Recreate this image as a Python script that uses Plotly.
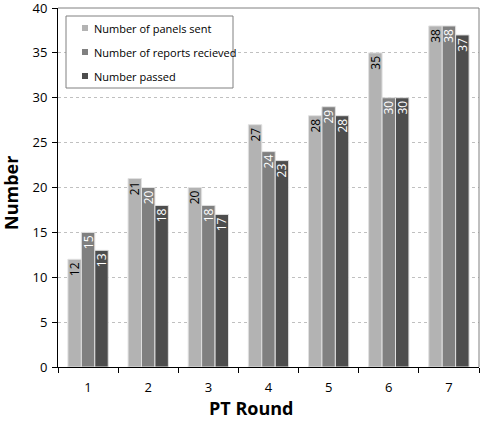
import plotly.graph_objects as go

rounds = ["1", "2", "3", "4", "5", "6", "7"]
panels_sent = [12, 21, 20, 27, 28, 35, 38]
reports_received = [15, 20, 18, 24, 29, 30, 38]
passed = [13, 18, 17, 23, 28, 30, 37]

series = [
    ("Number of panels sent", panels_sent, "#b3b3b3", "#000000"),
    ("Number of reports recieved", reports_received, "#808080", "#ffffff"),
    ("Number passed", passed, "#4d4d4d", "#ffffff"),
]

FONT = "Open Sans"
L, R, T, B = 58, 1, 8, 55
PW, PH = 480 - L - R, 422 - T - B

def px(x):
    return (x - L) / PW

def py(y):
    return 1 - (y - T) / PH

fig = go.Figure()
for name, vals, col, tcol in series:
    fig.add_trace(go.Bar(
        x=rounds, y=vals, name=name,
        marker=dict(color=col, line=dict(color="#e0e0e0", width=1)),
        text=[str(v) for v in vals],
        textposition="inside", insidetextanchor="end", textangle=-90,
        textfont=dict(family=FONT, size=12, color=tcol),
        showlegend=False,
    ))

shapes = [
    dict(type="line", xref="paper", yref="paper", x0=0, x1=1, y0=1, y1=1,
         line=dict(color="#808080", width=1)),
    dict(type="line", xref="paper", yref="paper", x0=1, x1=1, y0=0, y1=1,
         line=dict(color="#808080", width=1)),
    dict(type="rect", xref="paper", yref="paper", x0=px(66), x1=px(233), y0=py(88), y1=py(16),
         line=dict(color="#808080", width=1), fillcolor="white", layer="above"),
]
annotations = []
for i, (name, vals, col, tcol) in enumerate(series):
    yc = 28 + 24 * i
    shapes.append(dict(type="rect", xref="paper", yref="paper",
                       x0=px(82), x1=px(88), y0=py(yc + 3), y1=py(yc - 3),
                       fillcolor=col, line=dict(width=0), layer="above"))
    annotations.append(dict(text=name, xref="paper", yref="paper", x=px(92), y=py(yc),
                            xanchor="left", yanchor="middle", showarrow=False,
                            font=dict(family=FONT, size=11, color="#000000")))

annotations.append(dict(text="<b>PT Round</b>", xref="paper", yref="paper",
                        x=px(251), y=py(408), xanchor="center", yanchor="middle",
                        showarrow=False, font=dict(family=FONT, size=18)))
annotations.append(dict(text="<b>Number</b>", xref="paper", yref="paper",
                        x=px(11), y=py(193), xanchor="center", yanchor="middle",
                        textangle=-90, showarrow=False, font=dict(family=FONT, size=18)))

fig.update_layout(
    width=480, height=422,
    margin=dict(l=L, r=R, t=T, b=B, autoexpand=False),
    paper_bgcolor="white", plot_bgcolor="white",
    barmode="group", bargap=0.33, bargroupgap=0.0,
    font=dict(family=FONT, size=13, color="#000000"),
    uniformtext=dict(mode="show", minsize=11),
    showlegend=False,
    xaxis=dict(
        automargin=False,
        showline=True, linecolor="#000000", linewidth=1, mirror=False,
        ticks="outside", tickson="boundaries", ticklen=5, tickcolor="#000000",
        tickfont=dict(size=13), ticklabelstandoff=8,
    ),
    yaxis=dict(
        automargin=False,
        range=[0, 40], dtick=5,
        showline=True, linecolor="#000000", linewidth=1,
        ticks="outside", ticklen=5, tickcolor="#000000",
        showgrid=True, gridcolor="#c0c0c0", griddash="dot", gridwidth=1,
        tickfont=dict(size=13), zeroline=False, ticklabelstandoff=2,
        ticklabeloverflow="allow",
    ),
    shapes=shapes,
    annotations=annotations,
)

fig.write_html("out.html", config={"displayModeBar": False},
               post_script="document.body.style.margin='0';")
